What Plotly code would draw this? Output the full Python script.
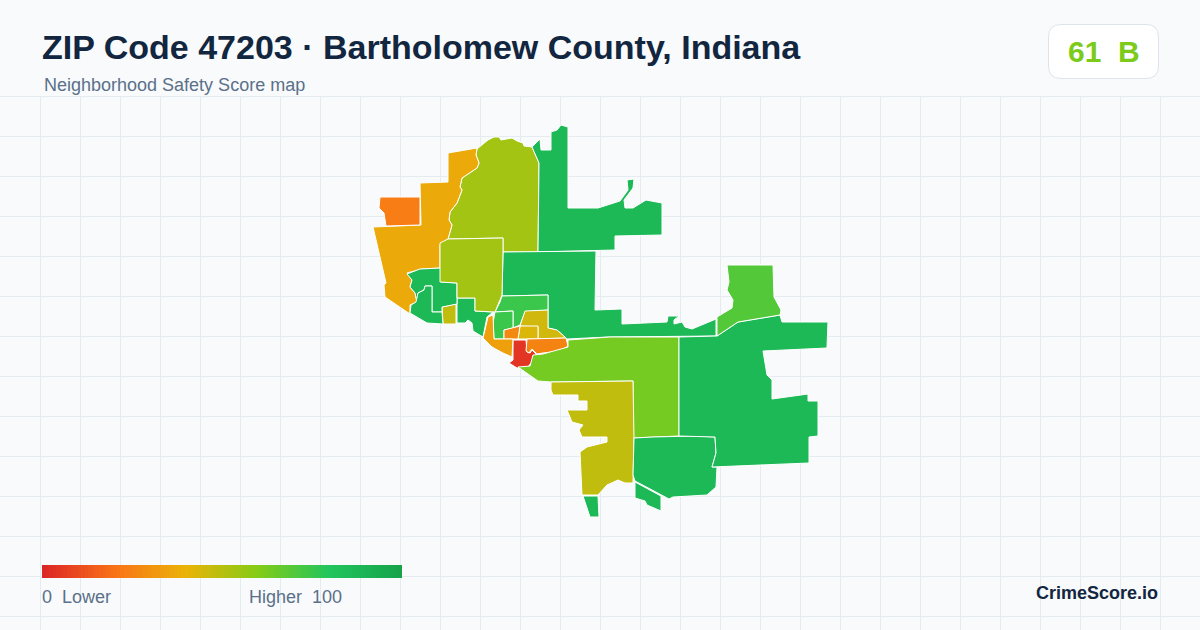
"""
ZIP 47203 safety score map, redrawn with plotly
Region outlines are read off the picture (picture pixels used as map units)
"""
from plotly.colors import sample_colorscale
from plotly.graph_objects import Figure, Scatter, Heatmap

# colour ramp of the score
ramp_stops = [0, 20, 40, 60, 80, 100]
ramp_colors = ["#dc2626", "#f97316", "#eab308", "#84cc16", "#22c55e", "#16a34a"]
legend_values = list(range(0, 101))

title = "ZIP Code 47203 · Bartholomew County, Indiana"
subtitle = "Neighborhood Safety Score map"
zip_score = 61
zip_grade = "B"

# region names, scores, outlines
north_x = [477, 486, 488, 494, 499, 501, 507, 512, 517, 523, 524, 532, 539, 538, 503, 503, 448, 452, 449, 450, 457, 462, 460, 462, 477, 479, 476]
north_y = [149, 141, 140, 137, 137, 140, 139, 138, 141, 143, 146, 147, 163, 252, 252, 238, 239, 225, 220, 212, 203, 190, 187, 178, 168, 163, 155]
west_x = [448, 477, 476, 479, 477, 462, 460, 462, 457, 450, 449, 452, 448, 440, 440, 422, 407, 412, 410, 415, 417, 410, 410, 385, 384, 386, 373, 395, 421, 420, 448]
west_y = [153, 148, 155, 163, 168, 178, 187, 190, 203, 212, 220, 225, 239, 245, 268, 269, 273, 280, 287, 293, 302, 305, 314, 297, 285, 283, 227, 226, 225, 183, 182]
northwest_x = [380, 420, 420, 386, 384, 379]
northwest_y = [197, 197, 225, 226, 213, 208]
northeast_x = [532, 540, 541, 551, 551, 557, 561, 568, 568, 598, 620, 628, 627, 634, 633, 624, 625, 633, 646, 662, 662, 615, 615, 575, 538, 539]
northeast_y = [147, 139, 150, 150, 132, 130, 125, 127, 208, 208, 201, 190, 180, 179, 188, 200, 208, 208, 200, 203, 235, 236, 250, 251, 252, 163]
central_x = [503, 596, 595, 622, 622, 643, 667, 668, 679, 674, 674, 682, 685, 692, 716, 716, 608, 567, 557, 548, 548, 502]
central_y = [252, 251, 310, 309, 324, 323, 322, 316, 316, 320, 324, 322, 327, 329, 319, 336, 337, 339, 330, 328, 295, 296]
upper_mid_x = [502, 548, 548, 525, 520, 513, 513, 495, 500]
upper_mid_y = [296, 295, 310, 312, 325, 328, 311, 312, 302]
inner_left_x = [495, 513, 513, 504, 504, 494, 493]
inner_left_y = [312, 311, 328, 330, 339, 339, 323]
inner_yellow_x = [525, 548, 548, 557, 566, 538, 538, 520]
inner_yellow_y = [311, 310, 328, 330, 338, 339, 327, 326]
small_yellow_x = [520, 538, 538, 518]
small_yellow_y = [326, 326, 339, 339]
small_orange_x = [504, 513, 520, 518, 504]
small_orange_y = [330, 328, 326, 339, 339]
downtown_x = [513, 526, 527, 530, 532, 537, 528, 517, 509, 513]
downtown_y = [340, 340, 352, 353, 350, 355, 367, 368, 363, 360]
east_orange_x = [527, 566, 568, 560, 543, 537, 532, 529, 526]
east_orange_y = [339, 338, 346, 351, 353, 354, 349, 353, 351]
river_x = [493, 494, 513, 512, 503, 492, 483, 487, 488]
river_y = [315, 339, 339, 357, 353, 347, 338, 322, 317]
coast_x = [457, 475, 475, 493, 487, 485, 483, 473, 472, 468, 465, 457]
coast_y = [298, 298, 311, 312, 317, 327, 337, 331, 323, 320, 323, 323]
olive_small_x = [442, 456, 456, 443]
olive_small_y = [307, 304, 324, 324]
west_green_x = [407, 420, 441, 441, 457, 457, 457, 442, 442, 432, 432, 425, 424, 418, 417, 415, 410, 412]
west_green_y = [274, 269, 268, 282, 283, 297, 304, 307, 312, 312, 286, 286, 290, 293, 302, 293, 287, 280]
shore_x = [425, 432, 432, 442, 443, 427, 410, 411, 416, 418, 424]
shore_y = [286, 286, 312, 312, 324, 323, 313, 305, 302, 293, 290]
mid_lime_x = [440, 448, 503, 503, 502, 495, 475, 475, 457, 457, 440]
mid_lime_y = [243, 239, 238, 252, 295, 312, 311, 298, 298, 283, 282]
southeast_lime_x = [568, 610, 679, 679, 633, 633, 551, 538, 518, 530, 533, 543, 568]
southeast_lime_y = [340, 337, 337, 436, 438, 381, 382, 381, 367, 366, 355, 354, 347]
south_olive_x = [551, 633, 634, 633, 633, 625, 618, 607, 598, 582, 580, 587, 607, 607, 582, 579, 583, 572, 567, 587, 587, 578, 578, 553, 551]
south_olive_y = [382, 381, 438, 475, 483, 483, 480, 485, 495, 495, 452, 447, 442, 437, 437, 430, 425, 422, 410, 410, 401, 401, 395, 395, 390]
south_green_x = [634, 653, 693, 715, 716, 712, 717, 716, 707, 673, 669, 635, 633]
south_green_y = [438, 437, 436, 437, 453, 467, 467, 487, 495, 497, 499, 481, 475]
far_east_x = [679, 717, 738, 780, 782, 828, 827, 827, 763, 767, 772, 772, 808, 808, 818, 818, 809, 809, 712, 716, 715, 693, 679]
far_east_y = [337, 336, 322, 315, 322, 322, 347, 348, 351, 375, 380, 399, 394, 401, 401, 436, 437, 463, 467, 453, 437, 436, 436]
upper_east_x = [727, 773, 774, 778, 781, 780, 738, 717, 717, 732, 733, 727, 729]
upper_east_y = [265, 265, 297, 305, 310, 315, 322, 336, 317, 308, 300, 290, 282]
tip_x = [583, 598, 599, 590]
tip_y = [496, 496, 517, 517]
south_bit_x = [635, 661, 661, 647, 645, 635]
south_bit_y = [482, 496, 511, 505, 501, 498]

regions = [
    ("North", 54, north_x, north_y),
    ("West", 37, west_x, west_y),
    ("Northwest", 23, northwest_x, northwest_y),
    ("Northeast", 87, northeast_x, northeast_y),
    ("Central", 87, central_x, central_y),
    ("Upper mid", 75, upper_mid_x, upper_mid_y),
    ("Inner left", 75, inner_left_x, inner_left_y),
    ("Inner yellow", 45, inner_yellow_x, inner_yellow_y),
    ("Small yellow", 43, small_yellow_x, small_yellow_y),
    ("Small orange", 27, small_orange_x, small_orange_y),
    ("Downtown", 4, downtown_x, downtown_y),
    ("East orange", 25, east_orange_x, east_orange_y),
    ("River", 34, river_x, river_y),
    ("Coast", 87, coast_x, coast_y),
    ("Olive small", 48, olive_small_x, olive_small_y),
    ("West green", 87, west_green_x, west_green_y),
    ("Shore", 87, shore_x, shore_y),
    ("Mid lime", 54, mid_lime_x, mid_lime_y),
    ("Southeast lime", 63, southeast_lime_x, southeast_lime_y),
    ("South olive", 48, south_olive_x, south_olive_y),
    ("South green", 87, south_green_x, south_green_y),
    ("Far east", 87, far_east_x, far_east_y),
    ("Upper east", 70, upper_east_x, upper_east_y),
    ("Tip", 87, tip_x, tip_y),
    ("South bit", 87, south_bit_x, south_bit_y),
]

scale = [[s / 100, c] for s, c in zip(ramp_stops, ramp_colors)]

BG = "#f8fafc"
GRID = "#e4ecf1"
INK = "#12263f"
MUTED = "#5b7089"
FONT = "Liberation Sans, Arial, sans-serif"


def add_text(fig, x, y, text, size, color, anchor="left", bold=False):
    if bold:
        text = "<b>" + text + "</b>"
    fig.add_annotation(x=x, y=y, text=text, showarrow=False, xanchor=anchor, yanchor="middle",
                       font={"size": size, "color": color, "family": FONT})


def main():
    fig = Figure()

    # header hides the grid, badge sits on top of it
    fig.add_shape(type="rect", x0=0, x1=1200, y0=0, y1=96, fillcolor=BG, line_width=0, layer="between")
    fig.add_shape(type="path", fillcolor="white", line={"color": "#dde4ec", "width": 1}, layer="between",
                  path="M1061,24.5 H1146 Q1158.5,24.5 1158.5,37 V66 Q1158.5,78.5 1146,78.5 H1061 "
                       "Q1048.5,78.5 1048.5,66 V37 Q1048.5,24.5 1061,24.5 Z")

    for name, score, xs, ys in regions:
        color = sample_colorscale(scale, score / 100)[0]
        fig.add_trace(Scatter(x=xs + xs[:1], y=ys + ys[:1], mode="lines", fill="toself", fillcolor=color,
                              line={"color": "white", "width": 1}, name=name, text=str(score),
                              hoverinfo="name+text", showlegend=False))

    # legend ramp
    fig.add_trace(Heatmap(z=[legend_values], x0=43.78, dx=360 / 101, y0=571.5, dy=13, colorscale=scale,
                          zmin=0, zmax=100, showscale=False, hoverinfo="skip"))

    add_text(fig, 40, 47, title, 34, INK, bold=True)
    add_text(fig, 42, 85, subtitle, 18, MUTED)
    add_text(fig, 1103.5, 51, str(zip_score) + "\u00a0\u00a0" + zip_grade, 30, "#7ccb1a", "center", bold=True)
    add_text(fig, 40, 597, "0\u00a0\u00a0Lower", 18, MUTED)
    add_text(fig, 344, 597, "Higher\u00a0\u00a0100", 18, MUTED, "right")
    add_text(fig, 1160, 593, "CrimeScore.io", 18, INK, "right", bold=True)

    axis = {"showgrid": True, "gridcolor": GRID, "gridwidth": 1, "zeroline": False, "showticklabels": False,
            "ticks": "", "showline": False, "dtick": 40}
    fig.update_layout(width=1200, height=630, margin={"l": 0, "r": 0, "t": 0, "b": 0},
                      paper_bgcolor=BG, plot_bgcolor=BG, font={"family": FONT},
                      xaxis={**axis, "range": [0, 1200], "tick0": 0.5},
                      yaxis={**axis, "range": [630, 0], "tick0": 16.5})
    fig.write_html("out.html", config={"displayModeBar": False},
                   post_script="document.body.style.margin='0';")


if __name__ == "__main__":
    main()
